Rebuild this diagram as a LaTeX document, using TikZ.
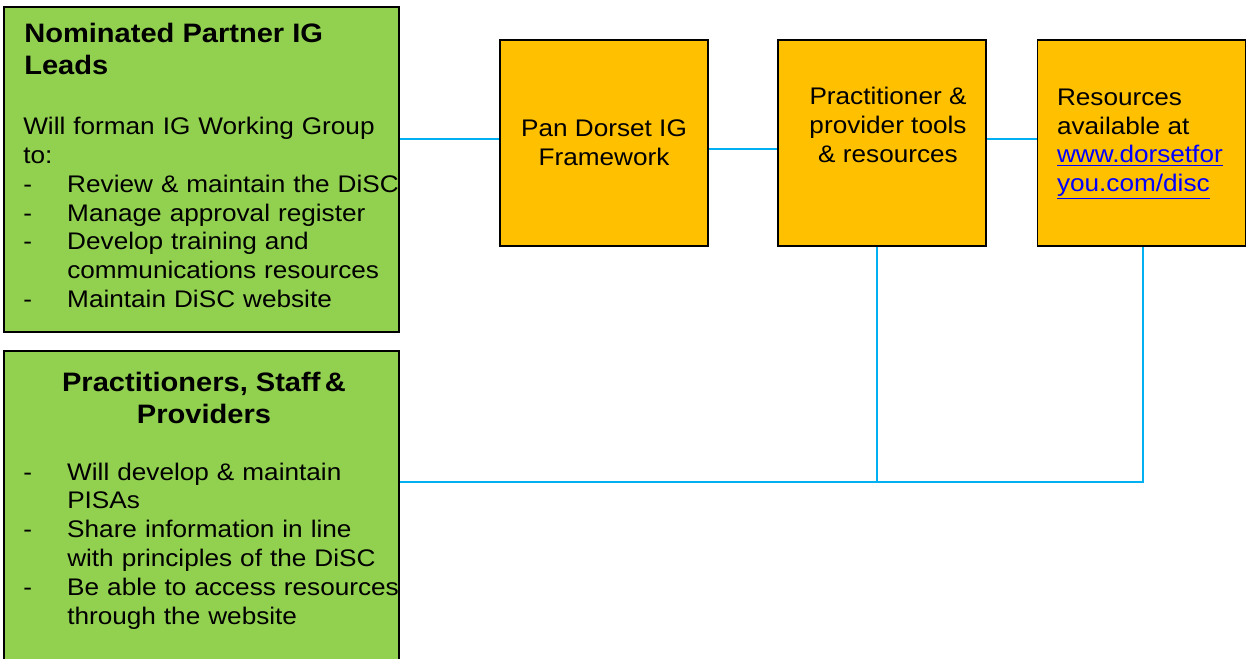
\documentclass[tikz,border=0pt]{standalone}
\usepackage{fontspec}
\setmainfont[FakeStretch=1.09]{Liberation Sans}
\usetikzlibrary{positioning}
\usetikzlibrary{calc}
\definecolor{leadgreen}{HTML}{92D050}
\definecolor{toolorange}{HTML}{FFC000}
\definecolor{wireblue}{HTML}{00B0F0}
\definecolor{urlblue}{HTML}{0000FF}
\tikzset{
	greenbox/.style={draw=black,line width=1.1pt,fill=leadgreen,minimum width=296pt,inner sep=0pt}
}
\tikzset{
	orangebox/.style={draw=black,line width=1.1pt,fill=toolorange,minimum width=156pt,minimum height=154.5pt,inner sep=0pt}
}
\tikzset{
	boxtext/.style={inner sep=0pt,font=\fontsize{18}{21.6}\selectfont},
	headtext/.style={inner sep=0pt,font=\fontsize{20}{24}\selectfont\bfseries},
	wire/.style={draw=wireblue,line width=1.4pt}
}
\newcommand{\dashitem}[1]{\par\hangindent=33pt\hangafter=1\noindent\makebox[33pt][l]{-}#1}
\newcommand{\urltext}[1]{\textcolor{urlblue}{\underline{#1}}}

\begin{document}
\begin{tikzpicture}[x=0.75pt,y=-0.75pt]
	\useasboundingbox[fill=white] (0,0) rectangle (1248,659);
	% left hand boxes
	\node[greenbox,minimum height=243.75pt] (leads) at (201.5,169.5) {};
	\node[greenbox,minimum height=237pt] (staff) at (201.5,509) {};
	% top row
	\node[orangebox] (pan) at (604,143) {};
	\node[orangebox] (tools) at (882,143) {};
	\node[orangebox] (res) at (1141.5,143) {};

	\node[headtext,anchor=north west,align=left] (leadshead) at (24,23) {Nominated Partner IG\\Leads};
	\node[boxtext,anchor=north west,text width=295pt,align=left] (leadsbody) at (23,117) {%
		Will forman IG Working Group\\to:
		\dashitem{Review \& maintain the DiSC}
		\dashitem{Manage approval register}
		\dashitem{Develop training and\newline communications resources}
		\dashitem{Maintain DiSC website}\par};

	\node[headtext,anchor=north,align=center] (staffhead) at (204,372) {Practitioners, Staff\,\&\\Providers};
	\node[boxtext,anchor=north west,text width=295pt,align=left] (staffbody) at (23,451) {%
		\dashitem{Will develop \& maintain\newline PISAs}
		\dashitem{Share information in line\newline with principles of the DiSC}
		\dashitem{Be able to access resources\newline through the website}\par};

	\node[boxtext,align=center] (pantxt) at (pan) {Pan Dorset IG\\Framework};
	\node[boxtext,anchor=north,align=center] (toolstxt) at ([xshift=4.5pt,yshift=-36pt]tools.north) {Practitioner \&\\provider tools\\\& resources};
	\node[boxtext,anchor=north west,align=left] (restxt) at ([xshift=15pt,yshift=-37pt]res.north west) {Resources\\available at\\\urltext{www.dorsetfor}\\\urltext{you.com/disc}};

	% connectors
	\draw[wire] (leads.east |- {$(pan.west)+(0,3pt)$}) -- ($(pan.west)+(0,3pt)$);
	\draw[wire] ($(pan.east)+(0,-4.5pt)$) -- ($(tools.west)+(0,-4.5pt)$);
	\draw[wire] ($(tools.east)+(0,3pt)$) -- ($(res.west)+(0,3pt)$);
	\draw[wire] ([yshift=20pt]staff.east) coordinate (bus) -| ([xshift=1.1pt]res.south);
	\draw[wire] ([xshift=-3.75pt]tools.south) -- ([xshift=-3.75pt]tools.south |- bus);
\end{tikzpicture}
\end{document}
